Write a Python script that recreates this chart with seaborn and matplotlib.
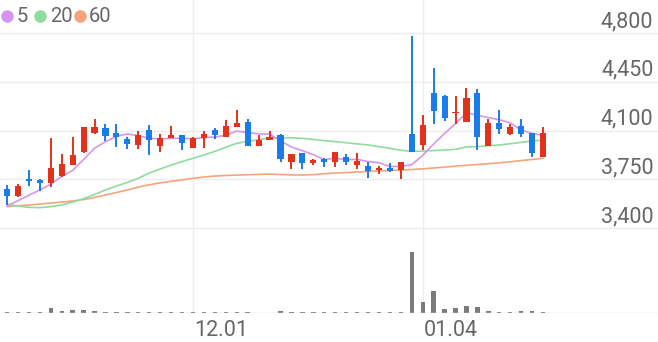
import numpy as np
import pandas as pd
import matplotlib
matplotlib.use("Agg")
import matplotlib.pyplot as plt
import matplotlib.transforms as mtransforms
import seaborn as sns

# ---------------- data ----------------
opens = [3680, 3630, 3752, 3745, 3721, 3773, 3852, 3943, 4080, 4120,
         4082, 4037, 3997, 4104, 3992, 4044, 4068, 3972, 4044, 4104,
         4051, 4123, 4163, 3992, 4032, 4068, 3871, 3936, 3865, 3895,
         3876, 3907, 3852, 3847, 3816, 3833, 3816, 4073, 3996, 4367,
         4350, 4224, 4163, 4372, 3992, 4156, 4075, 4132, 4080, 3907]
highs = [3709, 3716, 3816, 3752, 4044, 3931, 4055, 4127, 4182, 4147,
         4147, 4055, 4096, 4139, 4073, 4132, 4068, 4055, 4098, 4116,
         4175, 4247, 4180, 4068, 4099, 4073, 3931, 3941, 3893, 3900,
         3943, 3929, 3941, 3876, 3845, 3864, 3876, 4781, 4211, 4547,
         4355, 4350, 4407, 4396, 4182, 4247, 4147, 4180, 4080, 4123]
lows = [3565, 3623, 3702, 3668, 3697, 3764, 3852, 3936, 4073, 4027,
        3980, 3967, 3965, 3924, 3946, 4044, 3960, 3972, 3976, 4037,
        4051, 4123, 3992, 3992, 4032, 3871, 3823, 3821, 3855, 3840,
        3840, 3852, 3823, 3757, 3788, 3800, 3750, 3948, 3960, 4147,
        4168, 4147, 4163, 3960, 3992, 4075, 4068, 4051, 3907, 3907]
closes = [3630, 3702, 3737, 3723, 3833, 3857, 3922, 4127, 4127, 4063,
          4055, 4001, 4068, 4032, 4044, 4068, 4008, 4048, 4075, 4068,
          4132, 4156, 3992, 4032, 4056, 3893, 3931, 3865, 3888, 3876,
          3943, 3876, 3881, 3811, 3833, 3809, 3876, 3948, 4139, 4242,
          4188, 4235, 4331, 4056, 4152, 4109, 4127, 4073, 3936, 4080]
volumes = [1.0, 1.0, 1.3, 1.3, 5.3, 1.7, 3.3, 3.0, 1.7, 1.3,
           1.3, 0.7, 0.7, 1.3, 1.0, 1.0, 1.0, 1.0, 0.7, 0.7,
           1.3, 1.0, 1.0, 0.5, 0.5, 2.3, 1.3, 0.7, 0.7, 0.7,
           1.0, 0.7, 0.7, 0.7, 0.7, 0.7, 1.3, 61.0, 11.0, 21.6,
           3.7, 5.3, 7.3, 6.3, 2.3, 1.3, 1.3, 1.7, 1.7, 0.7]
ma5 = [3558, 3596, 3635, 3673, 3715, 3770, 3814, 3892, 3973, 4019,
       4059, 4075, 4063, 4044, 4040, 4043, 4044, 4040, 4049, 4053,
       4066, 4096, 4085, 4076, 4074, 4026, 3981, 3955, 3927, 3891,
       3901, 3890, 3893, 3877, 3869, 3842, 3842, 3855, 3921, 4003,
       4079, 4150, 4227, 4210, 4192, 4177, 4155, 4103, 4079, 4065]
ma20 = [3570, 3558, 3548, 3546, 3553, 3565, 3586, 3611, 3640, 3673,
        3701, 3727, 3757, 3795, 3823, 3852, 3877, 3900, 3925, 3950,
        3980, 4008, 4022, 4034, 4046, 4048, 4048, 4044, 4036, 4027,
        4020, 4012, 4004, 3996, 3984, 3972, 3958, 3950, 3952, 3956,
        3960, 3965, 3982, 3985, 3990, 3996, 4005, 4015, 4024, 4032]
ma60 = [3554, 3559, 3565, 3572, 3579, 3586, 3594, 3604, 3619, 3637,
        3655, 3673, 3694, 3710, 3724, 3735, 3745, 3757, 3766, 3773,
        3777, 3780, 3782, 3785, 3787, 3784, 3781, 3781, 3783, 3790,
        3795, 3798, 3802, 3806, 3810, 3813, 3816, 3820, 3825, 3831,
        3837, 3844, 3850, 3856, 3862, 3868, 3875, 3884, 3892, 3900]
price_ticks = [3400, 3750, 4100, 4450, 4800]
date_tick_pos = [17, 38]
date_tick_labels = ["12.01", "01.04"]
legend_labels = ["5", "20", "60"]

# ---------------- style ----------------
sns.set_theme(style="white")
plt.rcParams["font.family"] = ["Roboto", "DejaVu Sans"]

RED = "#e2321c"
BLUE = "#1a7ce8"
C5, C20, C60 = "#d595ee", "#8fdc9f", "#f6a47c"
GRID = "#ededed"
TXT = "#666666"

W, H = 658, 342
fig = plt.figure(figsize=(W / 100, H / 100), dpi=100)

# price axes: pixel rows 0..235
ax = fig.add_axes([0, (H - 235) / H, 1, 235 / H])
# volume axes: pixel rows 235..313
axv = fig.add_axes([0, (H - 313) / H, 1, 78 / H])

k = 1400 / 195.0  # price per pixel
ax.set_ylim(3400 - 7 * k, 4800 + 33 * k)
x0 = -7 / 10.94
x1 = (658 - 7) / 10.94
n = len(closes)
idx = np.arange(n)

df = pd.DataFrame({"i": idx, "open": opens, "high": highs, "low": lows,
                   "close": closes, "vol": volumes,
                   "ma5": ma5, "ma20": ma20, "ma60": ma60})

# grid
for t in price_ticks:
    ax.axhline(t, color=GRID, lw=1.0, zorder=0)
for p in date_tick_pos:
    ax.axvline(p, color=GRID, lw=1.0, zorder=0)
    axv.axvline(p, color=GRID, lw=1.0, zorder=0)

# moving averages
sns.lineplot(data=df, x="i", y="ma60", ax=ax, color=C60, lw=1.2, zorder=2)
sns.lineplot(data=df, x="i", y="ma20", ax=ax, color=C20, lw=1.2, zorder=2)
sns.lineplot(data=df, x="i", y="ma5", ax=ax, color=C5, lw=1.2, zorder=2)

# candles
o = np.array(opens, float); c = np.array(closes, float)
cols = [RED if cc >= oo else BLUE for oo, cc in zip(o, c)]
ax.vlines(idx, lows, highs, colors=cols, lw=1.4, zorder=3)
body_lo = np.minimum(o, c)
body_h = np.maximum(np.abs(c - o), 1.2 * k)
ax.bar(idx, body_h, bottom=body_lo, width=0.56, color=cols, zorder=4, linewidth=0)

ax.set_xlim(x0, x1)
ax.axis("off")

# price labels inside right
trans = mtransforms.offset_copy(ax.get_yaxis_transform(), fig=fig, x=0, y=6, units="dots")
for t in price_ticks:
    ax.text(0.993, t, f"{t:,}", transform=trans, ha="right", va="baseline",
            fontsize=15.5, color=TXT)

# volume
sns.barplot(data=df, x="i", y="vol", ax=axv, color="#7b7b7b", width=0.4,
            native_scale=True, saturation=1, linewidth=0, zorder=3)
axv.set_xlim(x0, x1)
axv.set_ylim(0, max(volumes) * 78 / 61)
axv.axhline(0, color="#dadada", lw=1.0, zorder=4)
axv.axis("off")

# date labels
for p, lab in zip(date_tick_pos, date_tick_labels):
    xf = (p - x0) / (x1 - x0)
    fig.text(xf + 1 / W, 1 - 336 / H, lab, ha="left", va="baseline",
             fontsize=15.5, color=TXT)

# legend
for xc, col, lab, xt in zip([6.5, 39.5, 79.5], [C5, C20, C60], legend_labels, [17, 50, 89]):
    fig.add_artist(plt.Line2D([xc / W], [1 - 15.5 / H], marker="o", ms=8,
                              color=col, mec=col, transform=fig.transFigure))
    fig.text(xt / W, 1 - 21.5 / H, lab, ha="left", va="baseline",
             fontsize=14.5, color=TXT)

fig.savefig("out.png", dpi=100)
